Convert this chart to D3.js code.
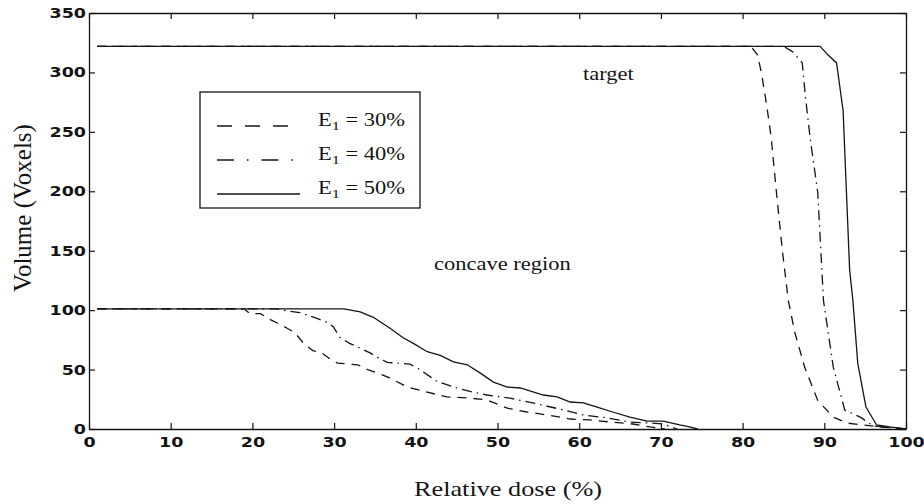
<!DOCTYPE html>
<html>
<head>
<meta charset="utf-8">
<script src="https://cdn.jsdelivr.net/npm/d3@7"></script>
<style>
  html, body { margin: 0; padding: 0; background: #fff; }
  svg { display: block; }
</style>
</head>
<body>
<svg id="chart" width="924" height="504"></svg>
<script>
// Dose-volume histograms for three E1 settings: target and concave region.
const doseTicks = [0, 10, 20, 30, 40, 50, 60, 70, 80, 90, 100];
const volumeTicks = [0, 50, 100, 150, 200, 250, 300, 350];
const seriesNames = ["30%", "40%", "50%"];

// [relative dose %, volume in voxels]
const concaveE30 = [[1,101],[19,101],[19.7,97],[21,97],[22.2,92],[23.1,89],[24.2,85],[25.2,81],[26.4,71],[27.4,66],[28.5,64],[29.5,59],[30.4,55.5],[32.9,54],[34.1,50],[35.4,47],[36.8,43],[38.9,35.5],[41.4,31],[43.8,27],[46.6,26],[48.7,24.5],[51.2,17.5],[53.6,14.3],[56.1,11.8],[58.9,8.4],[61.3,7.6],[63.8,5.9],[66.6,4.2],[68.7,1.7],[70.5,0]];
const concaveE40 = [[1,101],[23,101],[24.6,99],[25.8,98],[27.9,93],[29.1,90],[29.9,86],[30.7,77],[31.9,72],[32.9,69],[34.4,64],[35.4,60],[36.5,56],[37.7,55.5],[39.3,54.5],[40.5,50],[42.6,40],[45,34.5],[47,31],[48.7,28.6],[51.5,26],[54.3,22],[57.6,16.8],[60.5,11.8],[63.4,9.3],[66.2,5.9],[68.7,5],[70.3,4.2],[72,0]];
const concaveE50 = [[1,101],[31.2,101],[33.2,98.5],[34.8,94],[36.8,85],[38.4,77],[39.7,72],[41.4,65],[43,62],[44.6,56.5],[46.3,54],[47.9,47],[49.5,39.5],[51.2,35.3],[52.8,34.5],[55.6,28.6],[57.3,27],[58.9,22.7],[60.5,22],[62.2,18.5],[64.1,14.3],[66.2,10],[68.3,6.7],[70.3,6.7],[72.3,3.4],[73.5,1.7],[74.5,0]];
const targetE30 = [[1,322],[81,322],[81.8,315],[82.3,300],[83,270],[83.5,245],[84.2,195],[84.9,148],[85.6,108],[86.4,81],[87.6,52],[89.2,24],[91.1,10],[92.8,5],[96.8,1.7],[100,0]];
const targetE40 = [[1,322],[85,322],[86.2,317],[87.3,308],[87.7,279],[88.3,243],[89.2,199],[89.9,108],[91.1,52],[92.5,16],[94.4,10],[96,2.5],[100,0]];
const targetE50 = [[1,322],[89.5,322],[90.4,315],[91.5,308],[92.3,268],[93.1,134],[93.5,108],[94.1,55],[95.1,18.5],[96.4,3.4],[98,1.7],[100,0]];

// line styles: curve dash pattern and legend dash pattern
const curveDash = ["9,7", "10,5,1.5,5", null];
const legendDash = ["15,13", "17,13,1.5,13", null];

const svg = d3.select("#chart");
const W = 924, H = 504;
const m = { left: 89, right: 18, top: 13, bottom: 75 };
const stretch = 1.25;

const x = d3.scaleLinear().domain([0, 100]).range([m.left, W - m.right]);
const y = d3.scaleLinear().domain([0, 350]).range([H - m.bottom, m.top]);

const ink = "#141414";
const tickFont = "'DejaVu Sans', Arial, sans-serif";
const serif = "'Liberation Serif', 'Times New Roman', serif";

// axes with inward ticks on all four sides
const gB = svg.append("g").attr("transform", `translate(0,${y(0)})`)
  .call(d3.axisBottom(x).tickValues(doseTicks).tickSizeInner(-6).tickSizeOuter(0).tickPadding(8));
const gL = svg.append("g").attr("transform", `translate(${x(0)},0)`)
  .call(d3.axisLeft(y).tickValues(volumeTicks).tickSizeInner(-6).tickSizeOuter(0).tickPadding(3));
const gT = svg.append("g").attr("transform", `translate(0,${y(350)})`)
  .call(d3.axisTop(x).tickValues(doseTicks).tickSizeInner(-6).tickSizeOuter(0).tickFormat(""));
const gR = svg.append("g").attr("transform", `translate(${x(100)},0)`)
  .call(d3.axisRight(y).tickValues(volumeTicks).tickSizeInner(-6).tickSizeOuter(0).tickFormat(""));

[gB, gL, gT, gR].forEach(g => {
  g.select(".domain").attr("stroke", ink).attr("stroke-width", 1.3);
  g.selectAll(".tick line").attr("stroke", ink).attr("stroke-width", 1.2);
  g.selectAll("text")
    .attr("fill", ink)
    .style("font-family", tickFont)
    .style("font-weight", "bold")
    .style("font-size", "14px");
});
gB.selectAll(".tick text").attr("transform", `scale(${stretch},1)`);
gL.selectAll(".tick text")
  .attr("x", -3 / stretch)
  .attr("transform", `scale(${stretch},1)`);

// axis titles
svg.append("text")
  .attr("transform", `translate(508,496) scale(${stretch},1)`)
  .attr("text-anchor", "middle")
  .style("font-family", serif).style("font-size", "21px").attr("fill", ink)
  .text("Relative dose (%)");
svg.append("text")
  .attr("transform", "translate(31,208) rotate(-90)")
  .attr("text-anchor", "middle")
  .style("font-family", serif).style("font-size", "25px").attr("fill", ink)
  .text("Volume (Voxels)");

// curves
const line = d3.line().x(d => x(d[0])).y(d => y(d[1]));
const groups = [
  [concaveE30, targetE30],
  [concaveE40, targetE40],
  [concaveE50, targetE50]
];
groups.forEach((pair, i) => {
  pair.forEach(series => {
    svg.append("path")
      .datum(series)
      .attr("d", line)
      .attr("fill", "none")
      .attr("stroke", ink)
      .attr("stroke-width", 1.3)
      .attr("stroke-dasharray", curveDash[i]);
  });
});

// annotations
svg.append("text")
  .attr("transform", `translate(583,80) scale(${stretch},1)`)
  .style("font-family", serif).style("font-size", "18px").attr("fill", ink)
  .text("target");
svg.append("text")
  .attr("transform", `translate(434,270) scale(${stretch},1)`)
  .style("font-family", serif).style("font-size", "18px").attr("fill", ink)
  .text("concave region");

// legend
const lg = svg.append("g");
lg.append("rect")
  .attr("x", 200).attr("y", 92).attr("width", 220).attr("height", 116)
  .attr("fill", "#fff").attr("stroke", ink).attr("stroke-width", 1.3);
const rowY = [126, 160, 194];
seriesNames.forEach((name, i) => {
  lg.append("line")
    .attr("x1", 217).attr("x2", 300).attr("y1", rowY[i]).attr("y2", rowY[i])
    .attr("stroke", ink).attr("stroke-width", 1.3)
    .attr("stroke-dasharray", legendDash[i]);
  const t = lg.append("text")
    .attr("transform", `translate(318,${rowY[i]}) scale(${stretch},1)`)
    .style("font-family", serif).style("font-size", "18px").attr("fill", ink);
  t.append("tspan").text("E");
  t.append("tspan").attr("dy", 4).style("font-size", "13px").text("1");
  t.append("tspan").attr("dy", -4).text(" = " + name);
});
</script>
</body>
</html>
